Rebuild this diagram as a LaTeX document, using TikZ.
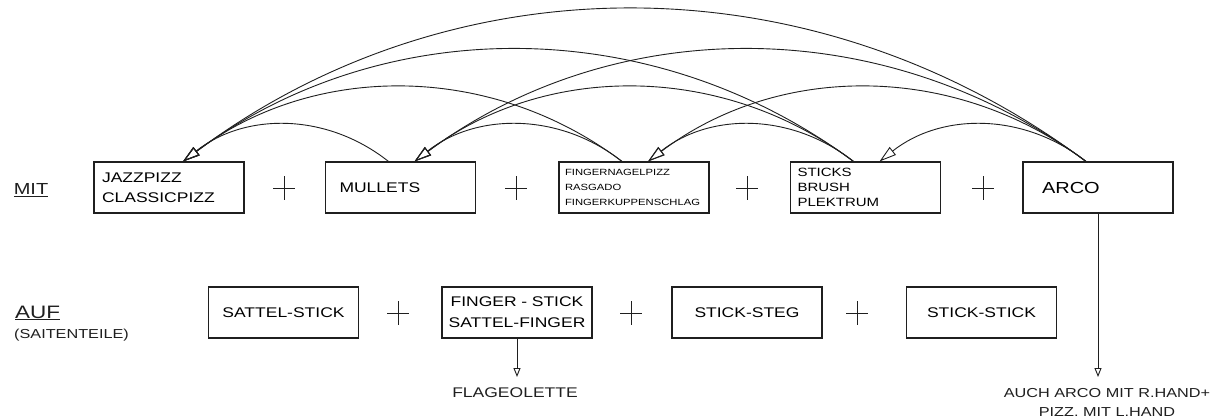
\documentclass[tikz,border=0pt]{standalone}
\usepackage{fontspec}
\setmainfont[FakeStretch=1.25]{Liberation Sans}
\usetikzlibrary{arrows.meta,calc}
\newcommand\linkarc[4]{\draw[curvearrow] ($(#1.north)+(-12,0)$) .. controls +(-#3,-#4) and +(#3,-#4) .. ($(#2.north)+(14,0)$);}
\begin{document}
\begin{tikzpicture}[x=1pt,y=-1pt,
  ink/.style={draw=black!88},
  box/.style={ink, line width=1.1pt, minimum width=150pt, minimum height=51pt, inner ysep=0pt},
  centerbox/.style={box, align=center, text width=140pt, inner xsep=5pt, font=\fontsize{14}{21}\selectfont},
  plussign/.style={minimum width=22pt, minimum height=24pt, inner sep=0pt,
    path picture={\draw[black!88,line width=1pt] (path picture bounding box.north) -- (path picture bounding box.south)
      (path picture bounding box.west) -- (path picture bounding box.east);}},
  curvearrow/.style={black!88, line width=0.9pt, -{Triangle[open,length=17pt,width=10pt,line width=0.9pt]}},
  vertarrow/.style={black!88, line width=0.9pt, -{Triangle[open,length=9pt,width=7pt,line width=0.9pt]}},
  label/.style={inner sep=0pt, text=black!88}
]
\useasboundingbox (0,0) rectangle (1227,420);
\fill[white] (0,0) rectangle (1227,420);

% row 1 labels
\node[label, font=\fontsize{16}{18}\selectfont] (mit) at (31,190) {\underline{MIT}};

% row 1 boxes
\node[box, align=left, inner xsep=8pt, text width=134pt, font=\fontsize{14}{20}\selectfont] (b1) at (169,187.5) {JAZZPIZZ\\CLASSICPIZZ};
\node[box, align=left, inner xsep=14pt, text width=122pt, font=\fontsize{14}{20}\selectfont] (b2) at (400.5,187.5) {MULLETS};
\node[box, align=left, inner xsep=6pt, text width=138pt, font=\fontsize{9}{15}\selectfont] (b3) at (634,187.5) {FINGERNAGELPIZZ\\RASGADO\\FINGERKUPPENSCHLAG};
\node[box, align=left, inner xsep=7pt, text width=136pt, font=\fontsize{12}{15}\selectfont] (b4) at (865.5,187.5) {STICKS\\BRUSH\\PLEKTRUM};
\node[box, align=left, inner xsep=19pt, text width=112pt, font=\fontsize{16}{18}\selectfont] (b5) at (1098,187.5) {ARCO};

\node[plussign] (p1) at (284,188) {};
\node[plussign] (p2) at (516,188) {};
\node[plussign] (p3) at (747,188) {};
\node[plussign] (p4) at (983,188) {};

% arcs
\linkarc{b2}{b1}{62}{49}
\linkarc{b3}{b2}{62}{49}
\linkarc{b4}{b3}{62}{49}
\linkarc{b5}{b4}{62}{49}
\linkarc{b3}{b1}{131}{99}
\linkarc{b4}{b2}{131}{99}
\linkarc{b5}{b3}{131}{99}
\linkarc{b4}{b1}{201}{149}
\linkarc{b5}{b2}{201}{149}
\linkarc{b5}{b1}{272}{203}

% row 2 labels
\node[label, anchor=west, font=\fontsize{18}{20}\selectfont] (auf) at (15,313) {\underline{AUF}};
\node[label, anchor=west, font=\fontsize{13}{15}\selectfont] (saiten) at (14,335) {(SAITENTEILE)};

% row 2 boxes
\node[centerbox] (b6) at (283.5,312.5) {SATTEL-STICK};
\node[centerbox] (b7) at (517,312.5) {FINGER - STICK\\SATTEL-FINGER};
\node[centerbox] (b8) at (747,312.5) {STICK-STEG};
\node[centerbox] (b9) at (981.5,312.5) {STICK-STICK};

\node[plussign] (p5) at (398,313) {};
\node[plussign] (p6) at (631,313) {};
\node[plussign] (p7) at (857,313) {};

% notes
\coordinate (flagEnd) at (517,377);
\coordinate (arcoEnd) at (1098,377);
\node[label, font=\fontsize{14}{16}\selectfont] (flag) at (515,393) {FLAGEOLETTE};
\node[label, align=center, font=\fontsize{13}{19}\selectfont] (note) at (1107,402) {AUCH ARCO MIT R.HAND+\\PIZZ. MIT L.HAND};

\draw[vertarrow] (b7.south) -- (b7.south |- flagEnd);
\draw[vertarrow] (b5.south) -- (b5.south |- arcoEnd);
\end{tikzpicture}
\end{document}
